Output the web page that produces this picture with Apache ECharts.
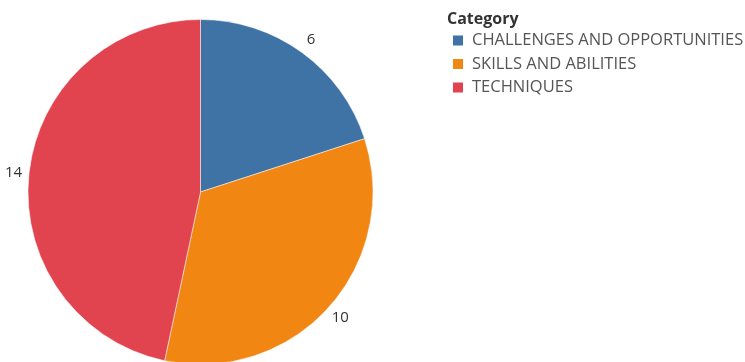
<!DOCTYPE html>
<html>
<head>
<meta charset="utf-8">
<script src="https://cdn.jsdelivr.net/npm/echarts@6/dist/echarts.min.js"></script>
<style>
  html, body { margin: 0; padding: 0; background: #fff; }
  #chart { width: 745px; height: 362px; }
</style>
</head>
<body>
<div id="chart"></div>
<script>
// Count of items per category
const categories = ['CHALLENGES AND OPPORTUNITIES', 'SKILLS AND ABILITIES', 'TECHNIQUES'];
const counts = [6, 10, 14];
const colors = ['#3f73a6', '#f28613', '#e1434f'];

const chart = echarts.init(document.getElementById('chart'), null, { renderer: 'canvas' });

chart.setOption({
  animation: false,
  backgroundColor: '#ffffff',
  title: {
    text: 'Category',
    left: 447,
    top: 11,
    padding: 0,
    textStyle: {
      fontFamily: 'Open Sans',
      fontSize: 16,
      fontWeight: 'bold',
      color: '#333333'
    }
  },
  legend: {
    orient: 'vertical',
    left: 451,
    top: 32,
    padding: 0,
    itemWidth: 12,
    itemHeight: 12,
    itemGap: 6.5,
    icon: 'rect',
    data: categories,
    textStyle: {
      fontFamily: 'Open Sans',
      fontSize: 16.5,
      color: '#555555',
      padding: [0, 0, 0, 3]
    }
  },
  series: [{
    type: 'pie',
    center: [200.5, 192],
    radius: 172.5,
    startAngle: 90,
    clockwise: true,
    avoidLabelOverlap: false,
    itemStyle: { borderColor: '#ffffff', borderWidth: 0.5 },
    label: {
      show: true,
      position: 'outside',
      formatter: '{c}',
      distanceToLabelLine: 0,
      fontFamily: 'Open Sans',
      fontSize: 15,
      color: '#333333'
    },
    labelLine: { show: false, length: 15.5, length2: 0 },
    labelLayout: { align: 'center', verticalAlign: 'middle' },
    emphasis: { disabled: true },
    data: categories.map((name, i) => ({
      name: name,
      value: counts[i],
      itemStyle: { color: colors[i] }
    }))
  }]
});
</script>
</body>
</html>
